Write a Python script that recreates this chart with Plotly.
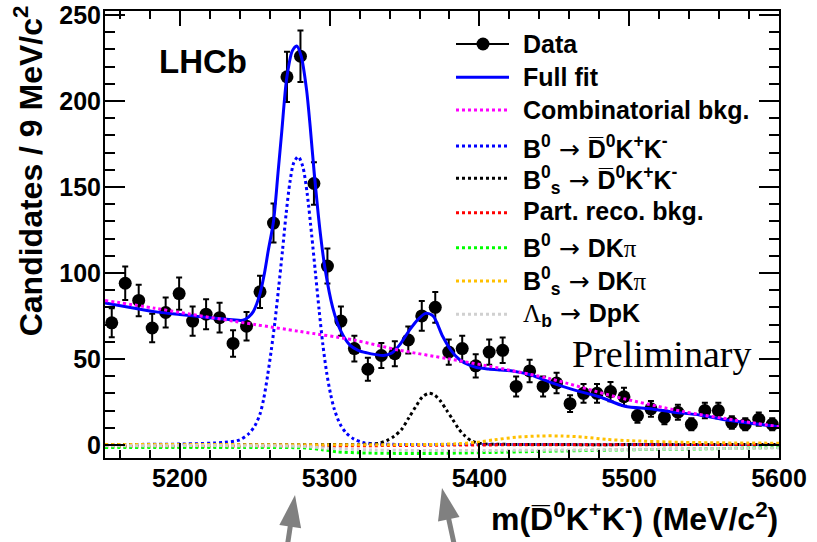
import numpy as np
import plotly.graph_objects as go

# ---------------- data ----------------
mass_bins = [5154.5, 5163.5, 5172.5, 5181.5, 5190.5, 5199.5, 5208.5, 5217.5, 5226.5, 5235.5,
             5244.5, 5253.5, 5262.5, 5271.5, 5280.5, 5289.5, 5298.5, 5307.5, 5316.5, 5325.5,
             5334.5, 5343.5, 5352.5, 5361.5, 5370.5, 5379.5, 5388.5, 5397.5, 5406.5, 5415.5,
             5424.5, 5433.5, 5442.5, 5451.5, 5460.5, 5469.5, 5478.5, 5487.5, 5496.5, 5505.5,
             5514.5, 5523.5, 5532.5, 5541.5, 5550.5, 5559.5, 5568.5, 5577.5, 5586.5, 5595.5]
counts = [71, 94, 84, 68, 77, 88, 72, 76, 74, 59,
          69, 89, 129, 214, 226, 152, 104, 72, 56, 44,
          52, 53, 61, 75, 80, 54, 56, 46, 54, 55,
          34, 43, 34, 36, 24, 30, 30, 31, 28, 17,
          21, 16, 19, 12, 20, 20, 13, 12, 15, 12]

fit_m = [5150, 5165, 5183, 5200, 5220, 5235, 5242, 5246, 5249, 5253.5, 5256.5, 5259, 5262.5,
         5265.5, 5268, 5271.3, 5275, 5278, 5281, 5284.5, 5287, 5289.5, 5293.5, 5297, 5302,
         5307, 5313.5, 5319, 5325, 5331, 5336, 5341.5, 5347, 5353.5, 5359, 5364, 5369,
         5375.5, 5381, 5387, 5393, 5398, 5406, 5414, 5422, 5435, 5447, 5463, 5480, 5497,
         5514, 5530, 5547, 5565, 5582, 5600]
fit_v = [82.5, 80.2, 77.5, 75.8, 74.0, 72.8, 72.5, 74.5, 77.5, 88, 100, 113, 130,
         158, 182, 213, 229, 232, 226, 207, 185, 160, 125, 102, 80,
         67, 58, 55, 53.5, 52.5, 52, 53.5, 58.5, 67, 73, 76.5, 75,
         63, 55, 49.4, 46.5, 45, 44.2, 43.6, 43, 40.5, 36.5, 32, 28, 22.5,
         21.0, 19, 17.4, 14.5, 12.5, 10.6]

comb_m = [5150, 5183, 5200, 5250, 5280, 5316, 5347, 5380, 5417, 5447, 5491, 5536, 5570, 5600]
comb_v = [84, 79.5, 77, 70, 66, 61, 55, 50, 44, 38.5, 28, 19.4, 14.5, 10.6]

b0_m = [5150, 5200, 5230, 5240, 5246, 5250, 5253.5, 5256, 5258.5, 5261, 5263.5, 5266, 5268.5,
        5271, 5273.5, 5276, 5279, 5282, 5285, 5288, 5290.5, 5293, 5295.5, 5298, 5300.5, 5303,
        5307, 5311, 5316, 5322, 5330, 5345, 5400, 5500, 5600]
b0_v = [0.3, 0.5, 1.5, 3, 6.5, 11, 18, 27, 40, 55, 72, 92, 113,
        135, 153, 164, 167.6, 162, 146, 122, 100, 78, 58, 42, 30, 21,
        12, 7, 3.5, 1.5, 0.6, 0.3, 0.3, 0.3, 0.3]

bs_m = [5150, 5300, 5325, 5333, 5338, 5343, 5348, 5353, 5358, 5362, 5366, 5370, 5374, 5378,
        5382, 5386, 5390, 5395, 5402, 5420, 5600]
bs_v = [0.2, 0.2, 0.4, 1, 2.5, 5, 9, 16, 23, 28, 30, 29, 25.5, 20.3,
        15, 9.5, 5.5, 2.2, 0.7, 0.3, 0.3]

partreco_m = [5150, 5300, 5400, 5600]
partreco_v = [-1.0, -0.6, 0.0, 0.2]

b0dkpi_m = [5150, 5250, 5285, 5295, 5305, 5320, 5360, 5400, 5450, 5500, 5550, 5590, 5600]
b0dkpi_v = [-1.5, -1.5, -1.8, -2.8, -4, -4.6, -5, -4.5, -3.6, -2.8, -2.3, -1.6, -1.5]

bsdkpi_m = [5150, 5370, 5385, 5398, 5410, 5425, 5440, 5455, 5470, 5485, 5500, 5536, 5600]
bsdkpi_v = [0.3, 0.3, 0.7, 1.5, 3, 4.5, 5.2, 5.2, 4.5, 3.2, 2.5, 1.5, 1.0]

lb_m = [5150, 5280, 5300, 5330, 5400, 5480, 5550, 5600]
lb_v = [-0.5, -0.8, -2, -3, -3.2, -2.8, -2.2, -1.8]

x_ticks = [5200, 5300, 5400, 5500, 5600]
y_ticks = [0, 50, 100, 150, 200, 250]

DBAR = "D\u0305"
ARR = '<span style="font-family:DejaVu Sans;font-weight:normal"> \u2192 </span>'
PI = '<span style="font-family:Liberation Serif;font-weight:normal">\u03c0</span>'
LAM = '<span style="font-family:Liberation Serif;font-weight:normal">\u039b</span>'
legend_labels = [
    "Data",
    "Full fit",
    "Combinatorial bkg.",
    "B<sup>0</sup>" + ARR + DBAR + "<sup>0</sup>K<sup>+</sup>K<sup>-</sup>",
    "B<sup>0</sup><sub>s</sub>" + ARR + DBAR + "<sup>0</sup>K<sup>+</sup>K<sup>-</sup>",
    "Part. reco. bkg.",
    "B<sup>0</sup>" + ARR + "DK" + PI,
    "B<sup>0</sup><sub>s</sub>" + ARR + "DK" + PI,
    LAM + "<sub>b</sub>" + ARR + "DpK",
]

# ---------------- geometry ----------------
W, H = 817, 542
L, R, T, B = 105, 779, 11, 458
SANS = "Liberation Sans, Arial, Helvetica, sans-serif"
SERIF = "Liberation Serif, Times New Roman, serif"


def px(x):
    return (x - L) / (R - L)


def py(y):
    return (B - y) / (B - T)


def mid_from_baseline(base, F, sup=False, sub=False, asc=0.905, desc=0.212):
    top = base - asc * F
    bot = base + desc * F
    if sup:
        top = min(top, base - 0.42 * F - asc * 0.7 * F)
    if sub:
        bot = max(bot, base + 0.21 * F + desc * 0.7 * F)
    return (top + bot) / 2


fig = go.Figure()

# data points
fig.add_trace(go.Scatter(
    x=mass_bins, y=counts, mode="markers",
    marker=dict(color="black", size=13),
    error_y=dict(type="data", array=list(np.sqrt(counts)), color="black", thickness=2, width=3),
    showlegend=False, hoverinfo="skip"))

# fit curves
curves = [
    (fit_m, fit_v, "#0000ff", "solid"),
    (comb_m, comb_v, "#ff00ff", "dot"),
    (b0_m, b0_v, "#0000ff", "dot"),
    (bs_m, bs_v, "#000000", "dot"),
    (partreco_m, partreco_v, "#ff0000", "dot"),
    (b0dkpi_m, b0dkpi_v, "#00ff00", "dot"),
    (bsdkpi_m, bsdkpi_v, "#ffc000", "dot"),
    (lb_m, lb_v, "#d0d0d0", "dot"),
]
for m, v, c, d in curves:
    fig.add_trace(go.Scatter(x=m, y=v, mode="lines",
                             line=dict(color=c, width=3, dash=d, shape="spline", smoothing=0.8),
                             showlegend=False, hoverinfo="skip"))

shapes = []
annotations = []

# ---------------- manual legend ----------------
LEG_F = 25
rows = [  # line y, text baseline, sup, sub
    (44.0, 52.3, False, False),
    (77.3, 85.7, False, False),
    (110.0, 118.7, False, False),
    (146.0, 158.3, True, False),
    (178.3, 188.3, True, True),
    (212.7, 220.0, False, False),
    (247.7, 256.7, True, False),
    (281.0, 290.0, True, True),
    (314.3, 321.7, False, True),
]
leg_styles = [("black", "solid", 2), ("#0000ff", "solid", 3), ("#ff00ff", "dot", 3),
              ("#0000ff", "dot", 3), ("#000000", "dot", 3), ("#ff0000", "dot", 3),
              ("#00ff00", "dot", 3), ("#ffc000", "dot", 3), ("#d0d0d0", "dot", 3)]
for (ly, base, sup, sub), (col, dash, lw), lab in zip(rows, leg_styles, legend_labels):
    shapes.append(dict(type="line", xref="paper", yref="paper",
                       x0=px(456), x1=px(509), y0=py(ly), y1=py(ly),
                       line=dict(color=col, width=lw, dash=dash)))
    annotations.append(dict(text=lab, xref="paper", yref="paper", x=px(520.7),
                            y=py(mid_from_baseline(base, LEG_F, sup, sub)),
                            xanchor="left", yanchor="middle", showarrow=False,
                            font=dict(family=SANS, size=LEG_F, color="black", weight="bold")))
# data marker in legend
shapes.append(dict(type="circle", xref="paper", yref="paper", x0=px(476.5), x1=px(489.5),
                   y0=py(50.5), y1=py(37.5), fillcolor="black", line=dict(color="black", width=0)))

# LHCb label
annotations.append(dict(text="LHCb", xref="paper", yref="paper", x=px(157), y=py(61.9),
                        xanchor="left", yanchor="middle", showarrow=False,
                        font=dict(family=SANS, size=33, color="black", weight="bold")))
# Preliminary
annotations.append(dict(text="Preliminary", xref="paper", yref="paper", x=px(570), y=py(354),
                        xanchor="left", yanchor="middle", showarrow=False,
                        font=dict(family=SERIF, size=38, color="black")))
# axis titles
annotations.append(dict(text="Candidates / 9 MeV/c<sup>2</sup>", xref="paper", yref="paper",
                        x=px(28.3), y=py(171), xanchor="center", yanchor="middle",
                        textangle=-90, showarrow=False,
                        font=dict(family=SANS, size=32, color="black", weight="bold")))
annotations.append(dict(text="m(" + DBAR + "<sup>0</sup>K<sup>+</sup>K<sup>-</sup>) (MeV/c<sup>2</sup>)",
                        xref="paper", yref="paper", x=px(780),
                        y=py(mid_from_baseline(530, 32, True, False)),
                        xanchor="right", yanchor="middle", showarrow=False,
                        font=dict(family=SANS, size=32, color="black", weight="bold")))


# grey arrows below the axis
def arrow(tip, tail, hl=32, hw=11, w=5, col="#808080"):
    tx, ty = tip
    sx, sy = tail
    d = np.hypot(tx - sx, ty - sy)
    ux, uy = (tx - sx) / d, (ty - sy) / d
    bx, by = tx - hl * ux, ty - hl * uy
    nx, ny = -uy, ux
    c1 = (bx + hw * nx, by + hw * ny)
    c2 = (bx - hw * nx, by - hw * ny)
    shapes.append(dict(type="line", xref="paper", yref="paper", x0=px(sx), y0=py(sy),
                       x1=px(bx + 2 * ux), y1=py(by + 2 * uy), line=dict(color=col, width=w)))
    path = "M{},{} L{},{} L{},{} Z".format(px(tx), py(ty), px(c1[0]), py(c1[1]), px(c2[0]), py(c2[1]))
    shapes.append(dict(type="path", xref="paper", yref="paper", path=path,
                       fillcolor=col, line=dict(color=col, width=0)))


arrow((295, 495), (287, 548))
arrow((442, 488), (455, 548))

tickfont = dict(family=SANS, size=25, color="black", weight="bold")
fig.update_layout(
    template="none",
    width=W, height=H, autosize=False,
    margin=dict(l=L, r=W - R, t=T, b=H - B, pad=0, autoexpand=False),
    paper_bgcolor="white", plot_bgcolor="white",
    showlegend=False,
    shapes=shapes, annotations=annotations,
    xaxis=dict(range=[5150, 5600], tickmode="array", tickvals=x_ticks,
               ticktext=[str(t) for t in x_ticks], automargin=False, ticklabelstandoff=-3,
               showline=True, linecolor="black", linewidth=2, mirror="allticks",
               ticks="inside", ticklen=15, tickwidth=2, tickcolor="black",
               tickfont=tickfont, showgrid=False, zeroline=False,
               minor=dict(ticks="inside", ticklen=8, tickwidth=2, tickcolor="black",
                          dtick=20, tick0=5200, showgrid=False)),
    yaxis=dict(range=[-7.6, 252.3], tickmode="array", tickvals=y_ticks,
               ticktext=[str(t) for t in y_ticks], automargin=False, ticklabelstandoff=-3,
               showline=True, linecolor="black", linewidth=2, mirror="allticks",
               ticks="inside", ticklen=20, tickwidth=2, tickcolor="black",
               tickfont=tickfont, showgrid=False, zeroline=False,
               minor=dict(ticks="inside", ticklen=10, tickwidth=2, tickcolor="black",
                          dtick=10, tick0=0, showgrid=False)),
)

fig.write_html("out.html")
